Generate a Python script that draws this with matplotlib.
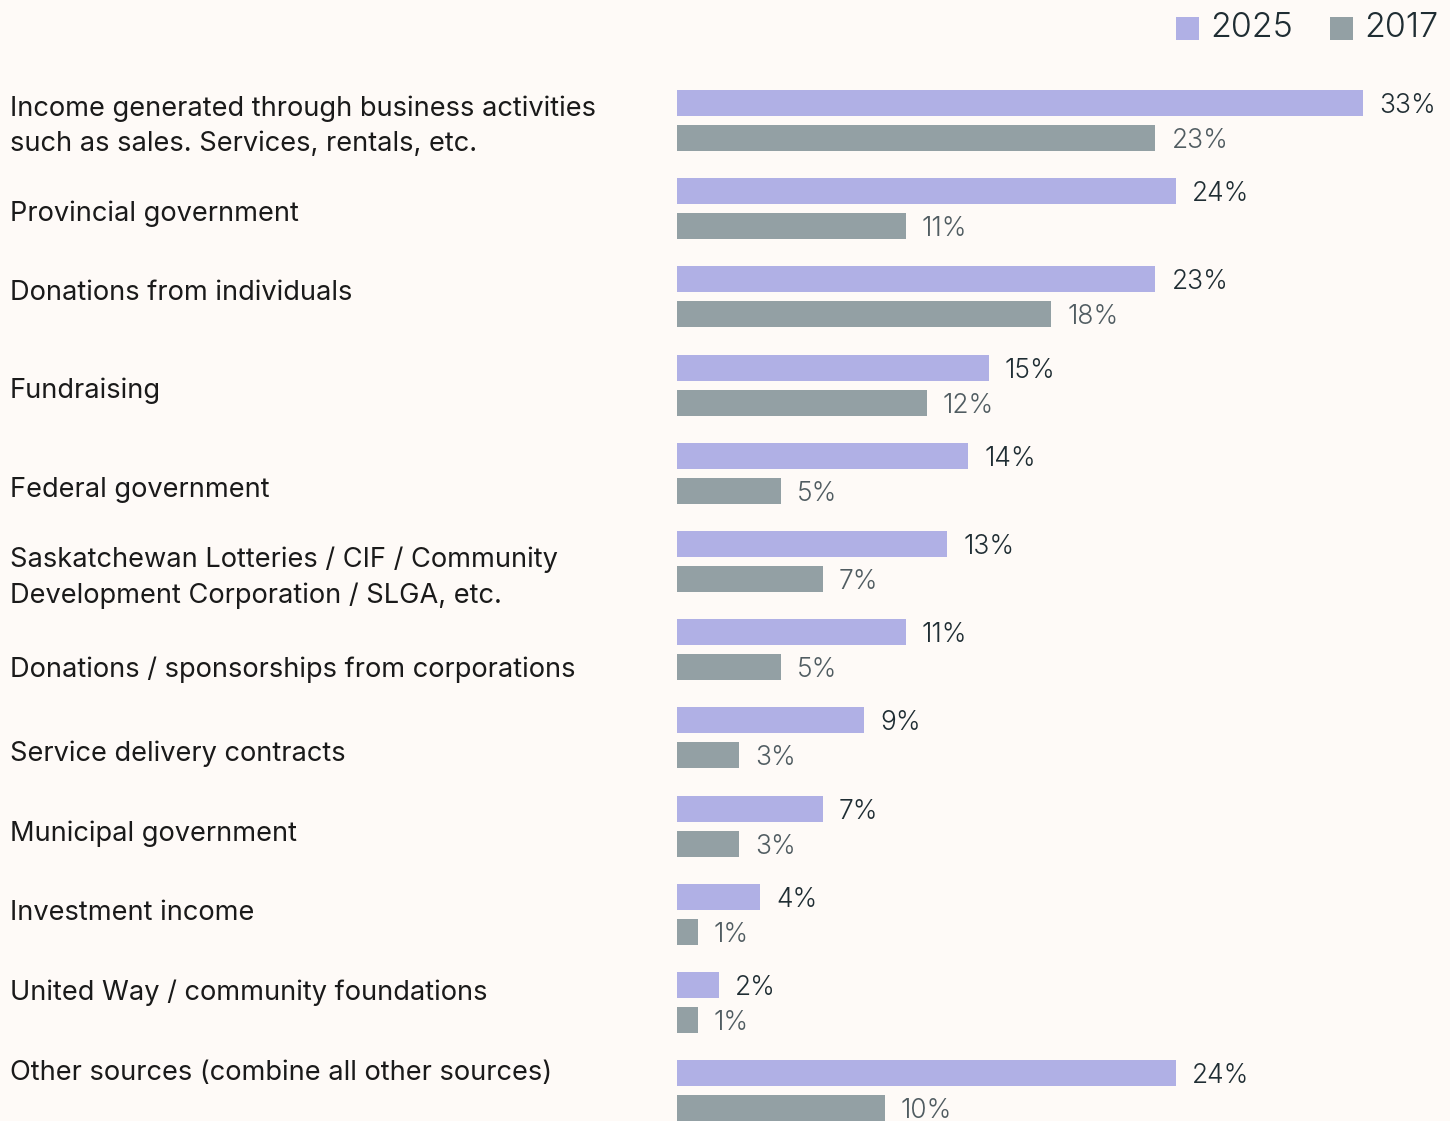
import matplotlib
matplotlib.use("Agg")
import matplotlib.pyplot as plt
from matplotlib.patches import Rectangle
import numpy as np

categories = [
    "Income generated through business activities\nsuch as sales. Services, rentals, etc.",
    "Provincial government",
    "Donations from individuals",
    "Fundraising",
    "Federal government",
    "Saskatchewan Lotteries / CIF / Community\nDevelopment Corporation / SLGA, etc.",
    "Donations / sponsorships from corporations",
    "Service delivery contracts",
    "Municipal government",
    "Investment income",
    "United Way / community foundations",
    "Other sources (combine all other sources)",
]
values_2025 = [33, 24, 23, 15, 14, 13, 11, 9, 7, 4, 2, 24]
values_2017 = [23, 11, 18, 12, 5, 7, 5, 3, 3, 1, 1, 10]
series_names = ["2025", "2017"]

# layout (figure pixels)
W, H = 1450, 1121
label_y_px = [126, 214, 293, 391, 490, 578, 670, 754, 834, 913, 993, 1073]

BG = "#fefaf7"
C25 = "#b0b0e5"
C17 = "#93a0a4"
TXT = "#1a1a1a"
V25 = "#1f2d33"
V17 = "#505c61"
FONT = ["Inter", "DejaVu Sans"]

plt.rcParams["font.family"] = FONT

fig = plt.figure(figsize=(W / 100, H / 100), dpi=100, facecolor=BG)
x0 = 677 / W
ax = fig.add_axes([x0, 0, 1 - x0, 1])
ax.set_facecolor(BG)

px_per_unit = 20.8
ax.set_xlim(0, (W - 677) / px_per_unit)
pitch = 88.2
top = -120.5 / pitch
bottom = (H - 120.5) / pitch
ax.set_ylim(bottom, top)

y = np.arange(len(categories))
off = 17.5 / pitch
bh = 26 / pitch
ax.barh(y - off, values_2025, height=bh, color=C25, label=series_names[0])
ax.barh(y + off, values_2017, height=bh, color=C17, label=series_names[1])

dy = 3 / pitch
for yi, v in zip(y, values_2025):
    ax.text(v + 16 / px_per_unit, yi - off + dy, f"{v}%", va="center", ha="left",
            fontsize=19, color=V25, fontweight=300)
for yi, v in zip(y, values_2017):
    ax.text(v + 16 / px_per_unit, yi + off + dy, f"{v}%", va="center", ha="left",
            fontsize=19, color=V17, fontweight=300)

for lab, py in zip(categories, label_y_px):
    fig.text(10 / W, 1 - py / H, lab, ha="left", va="center", fontsize=19.6,
             color=TXT, linespacing=1.45)

ax.axis("off")

# legend: square swatches with year labels, top right
legend_items = [(series_names[0], C25, 1176, 1210), (series_names[1], C17, 1330, 1364)]
for name, col, sx, tx in legend_items:
    fig.add_artist(Rectangle((sx / W, 1 - 40 / H), 23 / W, 23 / H,
                             transform=fig.transFigure, facecolor=col,
                             edgecolor="none"))
    fig.text(tx / W, 1 - 28 / H, name, ha="left", va="center", fontsize=24.5,
             color=V25, fontweight=300)

fig.savefig("out.png", dpi=100, facecolor=BG)
